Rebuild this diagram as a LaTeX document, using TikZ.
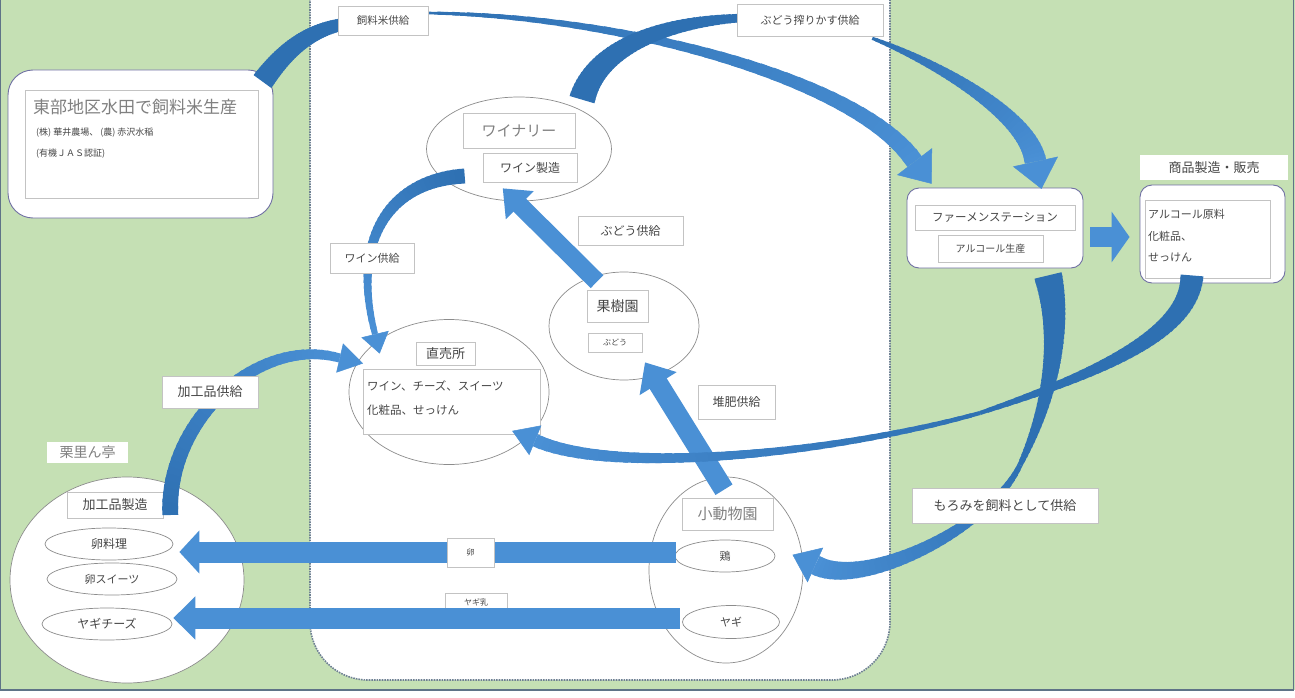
\documentclass[tikz,border=0pt]{standalone}
\usepackage{fontspec}
\setmainfont{Noto Sans CJK JP}
\usetikzlibrary{arrows.meta,calc,shapes.geometric}
\definecolor{bggreen}{RGB}{197,224,180}
\definecolor{dk}{RGB}{46,112,178}
\definecolor{lt}{RGB}{74,144,213}
\definecolor{framec}{RGB}{95,115,135}
\definecolor{edge}{RGB}{140,140,140}
\definecolor{lbledge}{RGB}{195,195,195}
\definecolor{txt}{RGB}{70,70,70}
\definecolor{ttl}{RGB}{128,128,128}
\pgfdeclarelayer{bg}
\pgfdeclarelayer{nodelayer}
\pgfdeclarelayer{arrowlayer}
\pgfsetlayers{bg,nodelayer,arrowlayer,main}
\newcommand\jfs[1]{\fontsize{#1pt}{#1pt}\selectfont}
\newcommand\crvpt[5]{\pgfpointcurveattime{#1}{\pgfpointanchor{#2}{center}}{\pgfpointanchor{#3}{center}}{\pgfpointanchor{#4}{center}}{\pgfpointanchor{#5}{center}}}
% tapered curve: #1..#4 bezier points, #5 start width, #6 end width, #7 start colour, #8 end colour
\newcommand\taper[8]{%
  \foreach \ti in {0,...,39}{%
    \pgfmathsetmacro\tta{max(0,\ti/40-0.006)}%
    \pgfmathsetmacro\ttb{min(1,(\ti+1)/40+0.006)}%
    \pgfmathsetmacro\tw{#5+(#6-#5)*(\ti+0.5)/40}%
    \pgfmathtruncatemacro\tp{100-100*(\ti+0.5)/40}%
    \begin{pgfscope}%
      \pgfsetlinewidth{\tw pt}%
      \pgfsetbuttcap
      \pgfsetstrokecolor{#7!\tp!#8}%
      \pgfpathmoveto{\crvpt{\tta}{#1}{#2}{#3}{#4}}%
      \pgfpathlineto{\crvpt{\ttb}{#1}{#2}{#3}{#4}}%
      \pgfusepath{stroke}%
    \end{pgfscope}%
  }%
}
% head at the end of a tapered curve: #5 width, #6 length, #7 colour
\newcommand\taphead[7]{%
  \pgfcoordinate{thA}{\crvpt{0.96}{#1}{#2}{#3}{#4}}%
  \draw[color=#7, line width=0.5pt, -{Triangle[width=#5pt,length=#6pt]}, shorten >=-#6pt] (thA) -- (#4);%
}
\begin{document}
\begin{tikzpicture}[x=1pt,y=-1pt,
  lbl/.style={draw=lbledge, line width=0.6pt, fill=white, inner sep=0pt, text=txt},
  boxx/.style={draw=lbledge, line width=0.6pt, fill=white, inner sep=0pt, text=txt},
  ell/.style={ellipse, draw=edge, line width=0.7pt, fill=white, inner sep=0pt, text=txt},
  rbox/.style={rectangle, draw=edge!80!blue, line width=0.9pt, fill=white, inner sep=0pt},
  plain/.style={fill=white, inner sep=0pt, text=txt},
  txtl/.style={anchor=west, inner sep=0pt, text=txt}]
\useasboundingbox (0,0) rectangle (1295,698);
\begin{pgfonlayer}{bg}
  \fill[bggreen] (0,0) rectangle (1295,690);
  \fill[white] (0,690) rectangle (1295,698);
  \draw[framec, line width=1.2pt] (0.6,0) -- (0.6,690) -- (1293.5,690) -- (1293.5,0);
  \draw[densely dotted, draw=framec!90, line width=1.6pt, fill=white, rounded corners=58pt] (310,-80) rectangle (890,680);
\end{pgfonlayer}

\begin{pgfonlayer}{nodelayer}
  % top-left
  \node[rbox, rounded corners=25pt, minimum width=265pt, minimum height=148pt] (tobu) at (140.5,144) {};
  \node[boxx, minimum width=233pt, minimum height=108pt] (tobuin) at (141.5,144) {};
  \node[txtl, text=ttl, font=\jfs{17}] (tobut) at (33,107) {東部地区水田で飼料米生産};
  \node[txtl, font=\jfs{9}] (tobu2) at (36,133) {(株) 華井農場、 (農) 赤沢水稲};
  \node[txtl, font=\jfs{9}] (tobu3) at (36,154) {(有機ＪＡＳ認証)};
  % winery
  \node[ell, minimum width=185pt, minimum height=104pt] (winery) at (519,149) {};
  \node[boxx, minimum width=112pt, minimum height=35pt, text=ttl, font=\jfs{15}] (wineryt) at (519,130.5) {ワイナリー};
  \node[boxx, minimum width=94pt, minimum height=29pt, font=\jfs{12}] (winemk) at (530,167.5) {ワイン製造};
  % orchard
  \node[ell, minimum width=150pt, minimum height=108pt] (kaju) at (624,326) {};
  \node[boxx, minimum width=61pt, minimum height=32pt, font=\jfs{14}] (kajut) at (617.5,306) {果樹園};
  \node[boxx, minimum width=54pt, minimum height=19pt, font=\jfs{8}] (budou) at (615,342.5) {ぶどう};
  % shop
  \node[ell, minimum width=200pt, minimum height=145pt] (choku) at (449,392) {};
  \node[boxx, minimum width=59pt, minimum height=23pt, font=\jfs{13}] (chokut) at (445.5,353.5) {直売所};
  \node[boxx, minimum width=177pt, minimum height=65pt] (chokuin) at (451.5,401.5) {};
  \node[txtl, font=\jfs{11.5}] (choku1) at (367,386) {ワイン、チーズ、スイーツ};
  \node[txtl, font=\jfs{11.5}] (choku2) at (367,410) {化粧品、せっけん};
  % bottom left
  \node[ell, minimum width=234pt, minimum height=206pt] (kuri) at (127,580) {};
  \node[plain, minimum width=81pt, minimum height=21pt, font=\jfs{14}, text=ttl] (kurit) at (87.5,452.5) {栗里ん亭};
  \node[boxx, minimum width=96pt, minimum height=26pt, font=\jfs{13}] (kakou) at (115,505) {加工品製造};
  \node[ell, minimum width=128pt, minimum height=32pt, font=\jfs{12}] (ranr) at (109,544) {卵料理};
  \node[ell, minimum width=130pt, minimum height=32pt, font=\jfs{11}] (rans) at (112,579) {卵スイーツ};
  \node[ell, minimum width=130pt, minimum height=32pt, font=\jfs{12}] (yagic) at (107,624) {ヤギチーズ};
  % small zoo
  \node[ell, minimum width=154pt, minimum height=186pt] (zoo) at (726,570) {};
  \node[boxx, minimum width=91pt, minimum height=32pt, font=\jfs{15}, text=ttl] (zoot) at (727.5,514) {小動物園};
  \node[ell, minimum width=100pt, minimum height=32pt, font=\jfs{11}] (tori) at (725,556) {鶏};
  \node[ell, minimum width=97pt, minimum height=33pt, font=\jfs{11}] (yagi) at (731,622) {ヤギ};
  % fermentation station
  \node[rbox, rounded corners=12pt, minimum width=176pt, minimum height=80pt] (ferm) at (995,228) {};
  \node[boxx, minimum width=160pt, minimum height=25pt, font=\jfs{11.5}] (fermt) at (995,217.5) {ファーメンステーション};
  \node[boxx, minimum width=105pt, minimum height=27pt, font=\jfs{10}] (alc) at (990.5,248.5) {アルコール生産};
  % products
  \node[plain, minimum width=148pt, minimum height=25pt, font=\jfs{13}] (shoht) at (1214,167.5) {商品製造・販売};
  \node[rbox, rounded corners=12pt, minimum width=145pt, minimum height=98pt] (shoh) at (1212.5,234) {};
  \node[boxx, minimum width=125pt, minimum height=78pt] (shohin) at (1207.5,239) {};
  \node[txtl, font=\jfs{11}] (p1) at (1148,214) {アルコール原料};
  \node[txtl, font=\jfs{11}] (p2) at (1148,236) {化粧品、};
  \node[txtl, font=\jfs{11}] (p3) at (1148,258) {せっけん};
  % goat milk label (under its arrow)
  \node[boxx, minimum width=62pt, minimum height=19pt, font=\jfs{8}] (l9) at (476,602.5) {ヤギ乳};
\end{pgfonlayer}

% labels on top of arrows
\node[lbl, minimum width=90pt, minimum height=29pt, font=\jfs{10.5}] (l1) at (383,20.5) {飼料米供給};
\node[lbl, minimum width=146pt, minimum height=32pt, font=\jfs{11}] (l2) at (810,20) {ぶどう搾りかす供給};
\node[lbl, minimum width=84pt, minimum height=30pt, font=\jfs{11}] (l3) at (372,258) {ワイン供給};
\node[lbl, minimum width=105pt, minimum height=29pt, font=\jfs{12}] (l4) at (630.5,230.5) {ぶどう供給};
\node[lbl, minimum width=77pt, minimum height=34pt, font=\jfs{12}] (l5) at (736.5,402) {堆肥供給};
\node[lbl, minimum width=96pt, minimum height=32pt, font=\jfs{13}] (l6) at (210,392) {加工品供給};
\node[lbl, minimum width=186pt, minimum height=35pt, font=\jfs{13}] (l7) at (1005,505.5) {もろみを飼料として供給};
\node[lbl, minimum width=47pt, minimum height=29pt, font=\jfs{8}] (l8) at (470.5,552.5) {卵};

\begin{pgfonlayer}{arrowlayer}
  % feed rice supply
  \coordinate (a1a) at ($(tobu.north east)+(-11,12)$);
  \coordinate (a1d) at ($(l1.west)+(7,3.5)$);
  \coordinate (a1b) at ($(a1a)+(23,-32)$);
  \coordinate (a1c) at ($(a1d)+(-35,6)$);
  \taper{a1a}{a1b}{a1c}{a1d}{22}{12}{dk}{dk}
  \coordinate (a2a) at ($(l1.east)+(-2,-7.5)$);
  \coordinate (a2d) at ($(ferm.north west)+(8,-26)$);
  \coordinate (a2b) at ($(a2a)+(194,2)$);
  \coordinate (a2c) at ($(a2d)+(-55,-82)$);
  \taper{a2a}{a2b}{a2c}{a2d}{2.5}{18}{dk}{lt}
  \taphead{a2a}{a2b}{a2c}{a2d}{44}{28}{lt}
  % grape pomace supply
  \coordinate (a3a) at ($(winery.north)+(63,3)$);
  \coordinate (a3d) at ($(l2.west)+(5,-2)$);
  \coordinate (a3b) at ($(a3a)+(13,-50)$);
  \coordinate (a3c) at ($(a3d)+(-82,4)$);
  \taper{a3a}{a3b}{a3c}{a3d}{26}{8}{dk}{dk}
  \coordinate (a4a) at ($(l2.south east)+(-11,2)$);
  \coordinate (a4d) at ($(ferm.north east)+(-48,-26)$);
  \coordinate (a4b) at ($(a4a)+(63,24)$);
  \coordinate (a4c) at ($(a4d)+(-7,-47)$);
  \taper{a4a}{a4b}{a4c}{a4d}{3}{22}{dk}{lt}
  \taphead{a4a}{a4b}{a4c}{a4d}{46}{28}{lt}
  % wine supply
  \coordinate (a5a) at ($(winemk.west)+(-18,8.5)$);
  \coordinate (a5d) at ($(choku.north)+(-74,15)$);
  \coordinate (a5b) at ($(a5a)+(-75,4)$);
  \coordinate (a5c) at ($(a5d)+(-25,-95)$);
  \taper{a5a}{a5b}{a5c}{a5d}{15}{6}{dk}{lt}
  \taphead{a5a}{a5b}{a5c}{a5d}{28}{20}{lt}
  % grape supply
  \draw[lt, line width=18pt, -{Triangle[width=38pt,length=24pt]}] ($(kajut.north)+(-20.5,-8)$) -- ($(winemk.south west)+(20,6)$);
  % compost supply
  \draw[lt, line width=20pt, -{Triangle[width=42pt,length=25pt]}] ($(zoot.north)+(-3.5,-8)$) -- ($(kaju.south)+(21,-18)$);
  % products to shop
  \coordinate (a8a) at ($(shoh.south)+(-20.5,-8)$);
  \coordinate (m8) at (980,413);
  \coordinate (a8b) at ($(a8a)+(-2,55)$);
  \coordinate (a8c) at ($(m8)+(130,-43)$);
  \taper{a8a}{a8b}{a8c}{m8}{23}{4}{dk}{dk}
  \coordinate (a8e) at ($(m8)+(-150,42)$);
  \coordinate (a8g) at ($(chokuin.south east)+(-5,6)$);
  \coordinate (a8f) at ($(a8g)+(75,35)$);
  \taper{m8}{a8e}{a8f}{a8g}{4}{13}{dk}{lt}
  \taphead{m8}{a8e}{a8f}{a8g}{32}{25}{lt}
  % processed goods supply
  \coordinate (a9a) at ($(kakou.east)+(7,10)$);
  \coordinate (a9d) at ($(choku.west)+(-9,-34)$);
  \coordinate (a9b) at ($(a9a)+(-5,-95)$);
  \coordinate (a9c) at ($(a9d)+(-80,-23)$);
  \taper{a9a}{a9b}{a9c}{a9d}{16}{9}{dk}{lt}
  \taphead{a9a}{a9b}{a9c}{a9d}{30}{24}{lt}
  % moromi as feed
  \coordinate (a10a) at ($(ferm.south)+(53,7)$);
  \coordinate (m10) at (1020,465);
  \coordinate (a10b) at ($(a10a)+(14,55)$);
  \coordinate (a10c) at ($(m10)+(32,-65)$);
  \taper{a10a}{a10b}{a10c}{m10}{28}{5}{dk}{dk}
  \coordinate (a10e) at ($(m10)+(-30,65)$);
  \coordinate (a10g) at ($(tori.east)+(40,9)$);
  \coordinate (a10f) at ($(a10g)+(45,25)$);
  \taper{m10}{a10e}{a10f}{a10g}{5}{20}{dk}{lt}
  \taphead{m10}{a10e}{a10f}{a10g}{38}{25}{lt}
  % fermentation to products
  \draw[lt, line width=20pt, -{Triangle[width=50pt,length=18pt]}] ($(ferm.east)+(7,9)$) -- ($(shoh.west)+(-10,3)$);
  % eggs and goat milk
  \draw[lt, line width=21pt, -{Triangle[width=42pt,length=20pt]}] ($(tori.west)+(1,-4)$) -- ($(ranr.east)+(6,8)$);
  \draw[lt, line width=21pt, -{Triangle[width=42pt,length=22pt]}] ($(yagi.west)+(-2,-4)$) -- ($(yagic.east)+(1,-6)$);
\end{pgfonlayer}
\end{tikzpicture}
\end{document}
